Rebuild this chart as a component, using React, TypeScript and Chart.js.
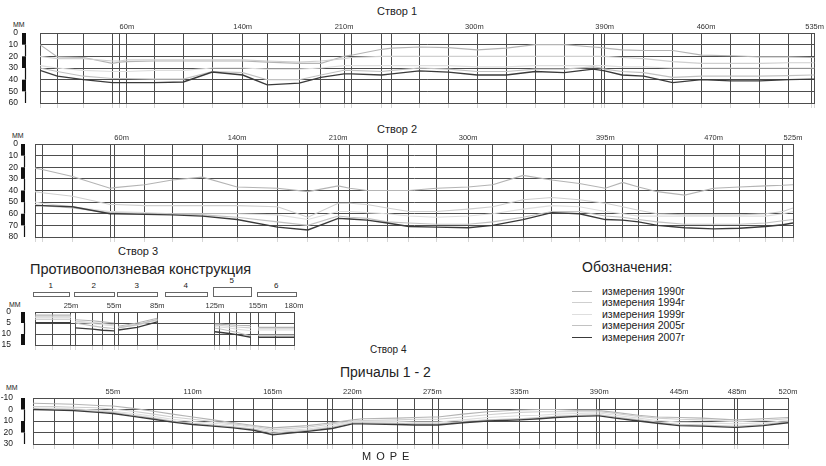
import React, { useEffect, useRef } from "react";
import { Chart, registerables } from "chart.js";
Chart.register(...registerables);

const FONT = '"Liberation Sans", Arial, sans-serif';

// ---- legend ----
const seriesNames = ["измерения 1990г", "измерения 1994г", "измерения 1999г", "измерения 2005г", "измерения 2007г"];
const seriesColors = ["#b4b4b4", "#cfcfcf", "#dedede", "#c2c2c2", "#3a3a3a"];

// ---- Створ 1 ----
const s1Dist = [0, 12, 30, 50, 55, 60, 79, 99, 119, 140, 157, 179, 194, 210, 215, 236, 243, 262, 282, 302, 322, 342, 362, 382, 388, 390, 402, 417, 437, 457, 477, 497, 517, 533, 535];
const s1Y1990 = [10, 20.5, 21, 26, 25, 24.5, 24, 24, 24, 24, 25, 26, 26, 20, 19, 14, 13, 12, 12.5, 14.5, 13, 10, 10, 12, 12.5, 13, 14.5, 15, 15, 19, 19.5, 20.5, 20.5, 21, 21];
const s1Y1994 = [20, 22, 22, 24, 24, 23, 23, 23, 23, 23, 24, 25, 24, 22, 21, 20, 20, 20, 20, 20, 20, 20, 20, 20, 20, 20, 21, 22, 24.5, 26, 26, 26, 25.5, 25.5, 25.5];
const s1Y1999 = [28, 30, 32, 33, 33, 33, 32, 32, 30, 30, 31, 31, 30, 28, 28, 28, 28, 28, 28, 29, 29, 28, 28, 28, 28, 28, 29, 29, 30, 30, 30, 30, 30, 30, 30];
const s1Y2005 = [30, 33, 37, 39, 39, 39, 39.5, 39.5, 33, 34, 40, 40, 36, 32, 32, 33, 32, 30, 31, 33, 33, 31, 31, 29, 30, 31, 33, 34, 38, 37, 37, 37, 36.5, 36, 36];
const s1Y2007 = [32, 37, 40, 42.5, 42.5, 42.5, 42.5, 42, 33.5, 36, 44.5, 43, 38, 35, 35, 36, 35, 32.5, 33.5, 36, 36, 33, 34, 31, 32, 32.5, 36, 37, 42.5, 40, 41, 41, 40, 39.5, 39.5];
const s1TickValues = [60, 140, 210, 300, 390, 460, 535];
const s1TickLabels = ["60m", "140m", "210m", "300m", "390m", "460m", "535m"];
const s1YTicks = [0, 10, 20, 30, 40, 50, 60];

// ---- Створ 2 ----
const s2Dist = [0, 5, 26, 52, 55, 76, 95, 116, 140, 168, 189, 210, 218, 230, 244, 259, 278, 300, 317, 338, 358, 377, 395, 407, 418, 431, 450, 470, 488, 506, 518, 525];
const s2Y1990 = [20.7, 22, 28, 38, 37.5, 35, 31, 28.5, 37, 38, 41, 36, 38, 40, 40, 40, 38, 37, 35, 27, 31, 34, 38, 33, 37, 41, 44, 38, 37, 36, 35.5, 35];
const s2Y1994 = [41, 42, 45, 52, 52, 53, 53, 53, 53, 54, 63, 51, 51, 52, 55, 58, 58, 56, 54, 48, 46, 48, 51, 54, 57, 60, 61, 61, 61, 60, 58, 55];
const s2Y1999 = [50, 51, 54, 58, 58, 59, 60, 60, 60, 61, 65, 58, 58, 59, 60, 62, 63, 62, 60, 56, 53, 54, 58, 60, 62, 62, 62, 62, 62, 62, 60, 58];
const s2Y2005 = [52, 53, 55, 59, 59, 60, 60, 61, 63, 67, 70, 62, 63, 64, 67, 68, 69, 69, 67, 63, 58, 58, 62, 63, 65, 67, 69, 69, 69, 68, 66, 65];
const s2Y2007 = [53, 53, 54, 60, 60, 60.5, 61, 62, 65, 71.5, 74, 64, 64.5, 65.5, 68, 71, 71.5, 72, 70, 65, 59, 60, 65, 65.5, 67, 70, 72, 73, 72.5, 71, 69.5, 68];
const s2TickValues = [60, 140, 210, 300, 395, 470, 525];
const s2TickLabels = ["60m", "140m", "210m", "300m", "395m", "470m", "525m"];
const s2YTicks = [0, 10, 20, 30, 40, 50, 60, 70, 80];

// ---- Створ 3 ----
const s3Dist = [0, 12, 25, 28, 40, 47, 55, 58, 71, 85, 125, 128, 135, 140, 150, 155, 167, 180];
const s3Section = [1, 1, 1, 2, 2, 2, 2, 3, 3, 3, 5, 5, 5, 5, 5, 6, 6, 6];
const s3Y1990 = [1.4, 1.4, 1.4, 3.5, 4, 4.5, 5, 6.5, 5, 2.8, 5.5, 5.5, 5.8, 6, 6.2, 7, 7, 7];
const s3Y1994 = [2.2, 2.2, 2.2, 4.2, 4.8, 5.2, 5.8, 6.8, 5.6, 3.4, 6, 6.1, 6.5, 6.8, 7.2, 7.6, 7.6, 7.6];
const s3Y1999 = [2.6, 2.6, 2.6, 4.5, 5.2, 5.8, 6.3, 7, 6, 3.8, 6.6, 6.8, 7.3, 7.8, 8.5, 8.2, 8.2, 8.2];
const s3Y2005 = [3.3, 3.3, 3.3, 5, 6.3, 7, 7.5, 7.2, 5.8, 3.4, 7.4, 7.6, 8.5, 9.2, 10.9, 10.5, 10.5, 10.5];
const s3Y2007 = [4.9, 4.9, 4.9, 7.2, 7.8, 8.3, 8.6, 8.2, 7, 4.5, 9, 9.2, 9.8, 10.3, 11.5, 11.5, 11.5, 11.5];
const s3TickValues = [25, 55, 85, 125, 155, 180];
const s3TickLabels = ["25m", "55m", "85m", "125m", "155m", "180m"];
const s3YTicks = [0, 5, 10, 15];
const s3Blocks = ["1", "2", "3", "4", "5", "6"];

// ---- Створ 4 ----
const s4Dist = [0, 15, 28, 45, 55, 69, 83, 96, 110, 124, 138, 152, 165, 189, 203, 206, 220, 227, 251, 263, 275, 279, 296, 313, 335, 349, 360, 375, 388, 390, 401, 417, 430, 445, 461, 483, 485, 503, 520];
const s4Y1990 = [-5.5, -5, -4.5, -3.5, -3, -1, 1.5, 4, 6.5, 9, 11.5, 14, 16, 14, 12, 11.5, 9, 8, 7.5, 7, 6.5, 6.5, 4, 2, 0.5, 0, 0, 0.5, 0.5, 1, 2.5, 5, 6.5, 7, 7.5, 9, 9, 8, 7];
const s4Y1994 = [-2.5, -2.5, -2, -1.5, -0.5, 1.5, 4, 6.5, 8.5, 10.5, 12.5, 14.5, 17.5, 15.5, 13, 12.5, 10, 9.5, 9, 8.5, 8.5, 8.5, 6.5, 4.5, 2.5, 2, 2, 2, 2, 2, 3.5, 6, 7.5, 8.5, 9, 10.5, 10.5, 9.5, 8];
const s4Y1999 = [-1, -1, -0.5, 0.5, 1.5, 3.5, 6, 8.5, 10.5, 12, 13.5, 15.5, 19, 17, 14.5, 14, 10.5, 10.5, 10.5, 11, 11, 11, 9, 7, 5.5, 5, 4, 3.5, 3, 3, 5, 7.5, 9.5, 11, 11.5, 12.5, 12.5, 11.5, 9.5];
const s4Y2005 = [-0.5, 0, 0.5, 1.5, 2.5, 5, 7.5, 10, 12, 13.5, 15, 17, 20.5, 18, 16, 15.5, 11.5, 11.5, 12, 12.5, 12.5, 12.5, 10.5, 9, 8, 7, 6, 5, 4.5, 4.5, 6.5, 9, 11, 13, 13.5, 14.5, 14.5, 13, 10.5];
const s4Y2007 = [0, 0.5, 1, 2.5, 3.5, 6, 8.5, 11, 13, 14.5, 16, 18, 22, 19, 17, 16.5, 12.5, 12.5, 13, 13.5, 13.5, 13.5, 11.5, 10, 9, 8, 7, 6, 5.5, 5.5, 7.5, 10, 12, 14, 14.5, 15.5, 15.5, 14, 11.5];
const s4TickValues = [55, 110, 165, 220, 275, 335, 390, 445, 485, 520];
const s4TickLabels = ["55m", "110m", "165m", "220m", "275m", "335m", "390m", "445m", "485m", "520m"];
const s4YTicks = [-10, 0, 10, 20, 30];

const rulerPlugin = {
  id: "ruler",
  afterDraw(chart: any, _args: any, opts: any) {
    const y = chart.scales.y;
    const ctx = chart.ctx;
    const x = chart.chartArea.left - opts.offset;
    const t: number[] = opts.ticks;
    ctx.save();
    ctx.fillStyle = "#111";
    ctx.strokeStyle = "#111";
    ctx.lineWidth = 1.2;
    for (let i = 0; i < t.length - 1; i++) {
      const y0 = y.getPixelForValue(t[i]);
      const y1 = y.getPixelForValue(t[i + 1]);
      if (i % 2 === 0) {
        ctx.fillRect(x - 2, Math.min(y0, y1), 4, Math.abs(y1 - y0));
      } else {
        ctx.beginPath();
        ctx.moveTo(x + 1.5, y0);
        ctx.lineTo(x + 1.5, y1);
        ctx.stroke();
      }
    }
    ctx.restore();
  },
};

type PanelProps = {
  dist: number[];
  series: number[][];
  section?: number[];
  xMax: number;
  yTicks: number[];
  topTicks: number[];
  topLabels: string[];
  left: number;
  right: number;
  top: number;
  bottom: number;
  canvasWidth: number;
  yPad: number;
  labelPad: number;
  rulerOffset: number;
};

function Panel(p: PanelProps) {
  const ref = useRef<HTMLCanvasElement | null>(null);
  const topH = 12;
  const botH = 7;
  const canvasTop = p.top - topH;
  const canvasHeight = p.bottom - canvasTop + botH;
  useEffect(() => {
    if (!ref.current) return;
    const datasets: any[] = p.series.map((vals, k) => {
      const pts: any[] = [];
      vals.forEach((v, i) => {
        if (p.section && i > 0 && p.section[i] !== p.section[i - 1]) {
          pts.push({ x: (p.dist[i - 1] + p.dist[i]) / 2, y: null });
        }
        pts.push({ x: p.dist[i], y: v });
      });
      return {
        label: seriesNames[k],
        data: pts,
        borderColor: seriesColors[k],
        backgroundColor: seriesColors[k],
        borderWidth: k === 4 ? 1.4 : 1.1,
        pointRadius: 0,
        tension: 0,
        spanGaps: false,
        order: 5 - k,
      };
    });
    const gridColor = "#4d4d4d";
    const allTicks = Array.from(new Set([...p.dist, ...p.topTicks])).sort((a, b) => a - b);
    const chart = new Chart(ref.current, {
      type: "line",
      data: { datasets },
      options: {
        animation: false,
        responsive: false,
        maintainAspectRatio: false,
        layout: { padding: { left: 0, top: 0, bottom: 0, right: p.canvasWidth - p.right } },
        plugins: {
          legend: { display: false },
          tooltip: { enabled: false },
          ruler: { offset: p.rulerOffset, ticks: p.yTicks },
        } as any,
        scales: {
          x: {
            type: "linear",
            position: "top",
            min: 0,
            max: p.xMax,
            afterBuildTicks: (s: any) => {
              s.ticks = allTicks.map((v) => ({ value: v }));
            },
            afterFit: (s: any) => {
              s.height = topH;
            },
            ticks: {
              autoSkip: false,
              maxRotation: 0,
              padding: p.labelPad,
              font: { size: 7.5, family: FONT },
              color: "#333",
              callback: (v: any) => {
                const j = p.topTicks.indexOf(Number(v));
                return j >= 0 ? p.topLabels[j] : "";
              },
            },
            grid: {
              color: (c: any) => (c.tick && p.dist.includes(c.tick.value) ? gridColor : "rgba(0,0,0,0)"),
              lineWidth: 1,
              drawTicks: false,
            },
            border: { color: gridColor },
          },
          xb: {
            type: "linear",
            position: "bottom",
            display: true,
            min: 0,
            max: p.xMax,
            afterBuildTicks: (s: any) => {
              s.ticks = p.dist.map((v) => ({ value: v }));
            },
            afterFit: (s: any) => {
              s.height = botH;
            },
            ticks: { display: false },
            grid: { drawOnChartArea: false, tickLength: 5, color: "#d6d6d6" },
            border: { color: gridColor },
          },
          y: {
            type: "linear",
            reverse: true,
            min: p.yTicks[0],
            max: p.yTicks[p.yTicks.length - 1],
            afterBuildTicks: (s: any) => {
              s.ticks = p.yTicks.map((v) => ({ value: v }));
            },
            afterFit: (s: any) => {
              s.width = p.left;
            },
            ticks: { padding: 0, autoSkip: false, font: { size: 8.5, family: FONT }, color: "#222" },
            grid: { color: gridColor, lineWidth: 1, tickLength: p.yPad, tickColor: "rgba(0,0,0,0)" },
            border: { color: gridColor },
          },
        },
      } as any,
      plugins: [rulerPlugin as any],
    });
    return () => chart.destroy();
  }, []);
  return (
    <canvas
      ref={ref}
      width={p.canvasWidth}
      height={canvasHeight}
      style={{ position: "absolute", left: 0, top: canvasTop, width: p.canvasWidth, height: canvasHeight }}
    />
  );
}

function T(props: { x: number; y: number; size: number; children: any; ls?: number; color?: string }) {
  return (
    <div
      style={{
        position: "absolute",
        left: props.x,
        top: props.y - props.size * 0.6,
        fontSize: props.size,
        lineHeight: 1.2,
        fontFamily: FONT,
        whiteSpace: "nowrap",
        color: props.color || "#222",
        letterSpacing: props.ls || 0,
      }}
    >
      {props.children}
    </div>
  );
}

const blockGeom = [
  { l: 33, r: 70, t: 292 },
  { l: 74, r: 115, t: 292 },
  { l: 117, r: 158, t: 292 },
  { l: 165, r: 208, t: 292 },
  { l: 213, r: 252, t: 287 },
  { l: 257, r: 297, t: 292 },
];

export default function App() {
  return (
    <div style={{ position: "absolute", left: 0, top: 0, width: 826, height: 466, background: "#fff", overflow: "hidden" }}>
      <T x={377} y={12} size={11}>Створ 1</T>
      <T x={13} y={25} size={7}>ММ</T>
      <Panel
        dist={s1Dist}
        series={[s1Y1990, s1Y1994, s1Y1999, s1Y2005, s1Y2007]}
        xMax={535}
        yTicks={s1YTicks}
        topTicks={s1TickValues}
        topLabels={s1TickLabels}
        left={40}
        right={815}
        top={33}
        bottom={103}
        canvasWidth={826}
        yPad={22}
        labelPad={2}
        rulerOffset={16}
      />

      <T x={377} y={130} size={11}>Створ 2</T>
      <T x={12} y={136} size={7}>ММ</T>
      <Panel
        dist={s2Dist}
        series={[s2Y1990, s2Y1994, s2Y1999, s2Y2005, s2Y2007]}
        xMax={525}
        yTicks={s2YTicks}
        topTicks={s2TickValues}
        topLabels={s2TickLabels}
        left={35}
        right={793}
        top={144}
        bottom={237}
        canvasWidth={826}
        yPad={17}
        labelPad={1.5}
        rulerOffset={12}
      />

      <T x={118} y={252} size={11}>Створ 3</T>
      <T x={30} y={270} size={14.5}>Противооползневая конструкция</T>
      {blockGeom.map((b, i) => (
        <React.Fragment key={i}>
          <div
            style={{
              position: "absolute",
              left: b.l,
              top: b.t,
              width: b.r - b.l,
              height: 297 - b.t,
              border: "1px solid #666",
              boxSizing: "border-box",
            }}
          />
          <T x={(b.l + b.r) / 2 - 3} y={b.t - 6} size={8}>{s3Blocks[i]}</T>
        </React.Fragment>
      ))}
      <T x={9} y={305} size={7}>ММ</T>
      <Panel
        dist={s3Dist}
        series={[s3Y1990, s3Y1994, s3Y1999, s3Y2005, s3Y2007]}
        section={s3Section}
        xMax={180}
        yTicks={s3YTicks}
        topTicks={s3TickValues}
        topLabels={s3TickLabels}
        left={35}
        right={294}
        top={312}
        bottom={345}
        canvasWidth={330}
        yPad={24}
        labelPad={1.5}
        rulerOffset={12}
      />

      <T x={582} y={267} size={14}>Обозначения:</T>
      {seriesNames.map((n, i) => {
        const yy = 291 + i * 11.5;
        return (
          <React.Fragment key={n}>
            <div
              style={{
                position: "absolute",
                left: 572,
                top: yy - 0.5,
                width: 20,
                height: i === 4 ? 1.5 : 1.2,
                background: seriesColors[i],
              }}
            />
            <T x={602} y={yy} size={10.5}>{n}</T>
          </React.Fragment>
        );
      })}

      <T x={370} y={350} size={10}>Створ 4</T>
      <T x={340} y={372} size={14}>Причалы 1 - 2</T>
      <T x={6} y={388} size={7}>ММ</T>
      <Panel
        dist={s4Dist}
        series={[s4Y1990, s4Y1994, s4Y1999, s4Y2005, s4Y2007]}
        xMax={520}
        yTicks={s4YTicks}
        topTicks={s4TickValues}
        topLabels={s4TickLabels}
        left={33}
        right={788}
        top={398}
        bottom={444}
        canvasWidth={826}
        yPad={20}
        labelPad={2}
        rulerOffset={10}
      />
      <T x={362} y={457} size={11} ls={5}>МОРЕ</T>
    </div>
  );
}
